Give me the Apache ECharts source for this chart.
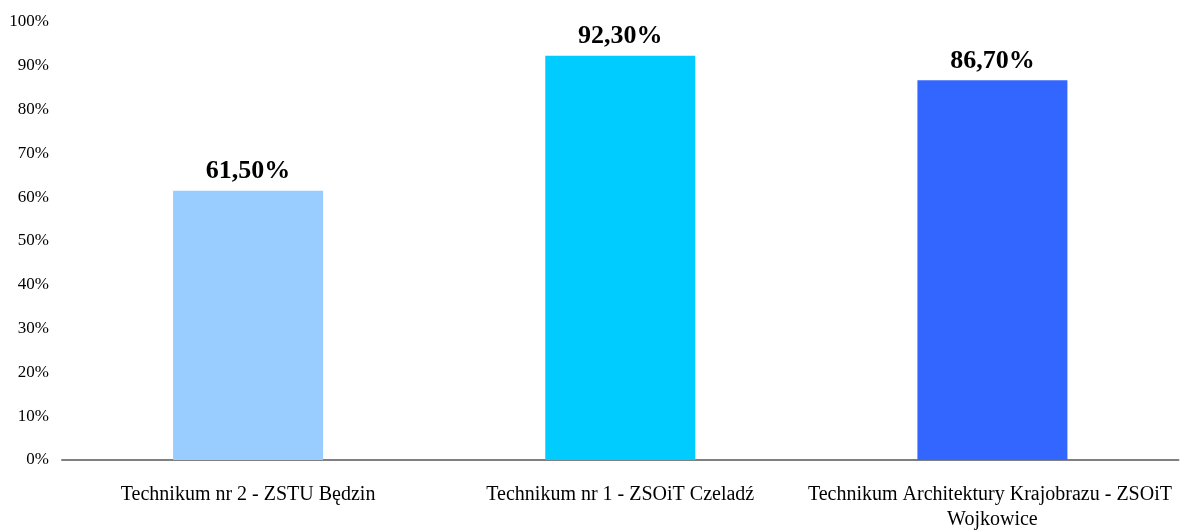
<!DOCTYPE html>
<html>
<head>
<meta charset="utf-8">
<script src="https://cdn.jsdelivr.net/npm/echarts@6/dist/echarts.min.js"></script>
<style>
  html, body { margin: 0; padding: 0; background: #fff; }
  #chart { width: 1181px; height: 532px; }
</style>
</head>
<body>
<div id="chart"></div>
<script>
// dane
const categories = [
  "Technikum nr 2 - ZSTU Będzin",
  "Technikum nr 1 - ZSOiT Czeladź",
  "Technikum Architektury Krajobrazu - ZSOiT Wojkowice"
];
const values = [61.5, 92.3, 86.7];
const barColors = ["#99CCFF", "#00CCFF", "#3366FF"];

const chart = echarts.init(document.getElementById("chart"));

// 61.5 -> "61,50%"
const fmtPct = (v) => v.toFixed(2).replace(".", ",") + "%";

chart.setOption({
  animation: false,
  textStyle: { fontFamily: "Liberation Serif, Times New Roman, serif" },
  grid: { left: 62, right: 0, top: 22, bottom: 71 },
  xAxis: {
    type: "category",
    data: categories,
    axisTick: { show: false },
    axisLine: { lineStyle: { color: "#808080", width: 2 } },
    axisLabel: {
      color: "#000",
      fontSize: 20,
      margin: 22,
      lineHeight: 25,
      width: 372,
      overflow: "break",
      interval: 0
    }
  },
  yAxis: {
    type: "value",
    min: 0,
    max: 100,
    interval: 10,
    splitLine: { show: false },
    axisLine: { show: false },
    axisTick: { show: false },
    axisLabel: {
      color: "#000",
      fontSize: 17,
      margin: 13,
      formatter: (v) => v + "%"
    }
  },
  series: [
    {
      type: "bar",
      barWidth: 150,
      data: values.map((v, i) => ({ value: v, itemStyle: { color: barColors[i] } })),
      label: {
        show: true,
        position: "top",
        distance: 6,
        color: "#000",
        fontSize: 26,
        fontWeight: "bold",
        formatter: (p) => fmtPct(p.value)
      }
    }
  ]
});
</script>
</body>
</html>
